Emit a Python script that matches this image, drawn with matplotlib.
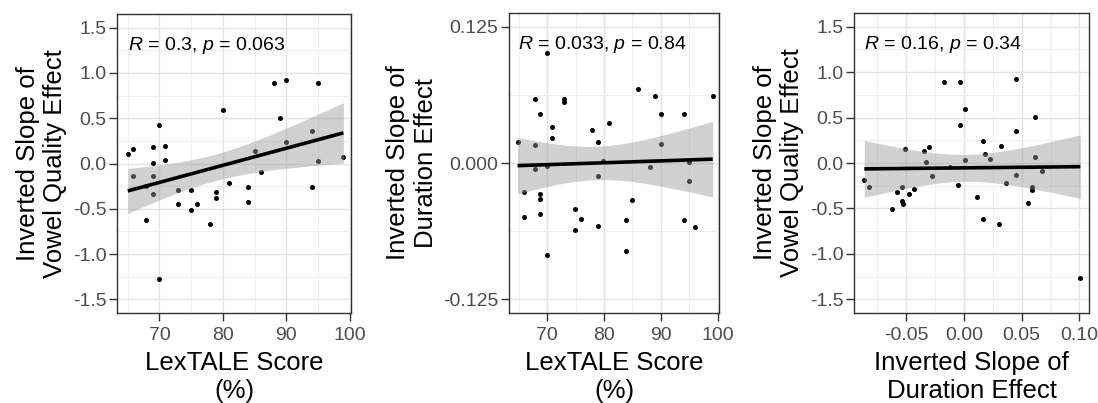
import numpy as np
from matplotlib import pyplot as plt
from matplotlib import ticker
from matplotlib import transforms as mtransforms

plt.rcParams['font.family'] = ['Liberation Sans', 'DejaVu Sans']
plt.rcParams['mathtext.fontset'] = 'custom'
plt.rcParams['mathtext.rm'] = 'Liberation Sans'
plt.rcParams['mathtext.it'] = 'Liberation Sans:italic'
plt.rcParams['axes.unicode_minus'] = False

# Panel 1: LexTALE score vs inverted slope of vowel quality effect
lex_a = [65.0, 65.9, 65.9, 67.9, 67.9, 68.9, 68.9, 68.9, 68.9, 70.0, 70.0,
         70.9, 70.9, 72.9, 72.9, 74.9, 74.9, 75.9, 77.9, 78.9, 78.9, 80.0,
         81.0, 84.0, 84.0, 85.0, 86.0, 88.0, 89.0, 90.0, 90.0, 94.0, 94.0,
         95.0, 95.0, 99.0]
vowel_a = [0.10, 0.16, -0.14, -0.25, -0.62, 0.18, 0.01, -0.14, -0.34, 0.42,
           -1.27, 0.19, 0.04, -0.29, -0.45, -0.29, -0.51, -0.45, -0.67, -0.32,
           -0.38, 0.59, -0.22, -0.26, -0.42, 0.14, -0.09, 0.89, 0.50, 0.92,
           0.24, 0.36, -0.26, 0.89, 0.03, 0.07]

# Panel 2: LexTALE score vs inverted slope of duration effect
lex_b = [64.8, 65.9, 65.9, 67.8, 67.8, 67.8, 68.8, 68.8, 68.8, 68.8, 69.9,
         69.9, 69.9, 70.9, 70.9, 72.9, 72.9, 74.9, 74.9, 75.9, 77.9, 78.9,
         78.9, 78.9, 79.9, 80.9, 83.9, 83.9, 84.9, 86.0, 88.0, 89.0, 90.0,
         90.0, 94.0, 94.0, 95.0, 95.0, 96.0, 99.1]
duration_b = [0.0191, -0.0267, -0.0498, 0.0589, 0.0167, -0.0052, 0.0452,
              -0.0288, -0.0328, -0.0470, 0.1007, -0.0024, -0.0843, 0.0328,
              0.0231, 0.0583, 0.0555, -0.0419, -0.0610, -0.0516, 0.0303,
              0.0197, -0.0115, -0.0573, 0.0015, 0.0364, -0.0522, -0.0810,
              -0.0340, 0.0677, -0.0036, 0.0616, 0.0452, 0.0176, 0.0452,
              -0.0522, 0.0009, -0.0167, -0.0586, 0.0610]

# Panel 3: duration effect slope vs vowel quality effect slope
duration_c = [-0.0861, -0.0821, -0.0625, -0.0582, -0.0533, -0.0533, -0.0524,
              -0.0507, -0.0478, -0.0429, -0.0348, -0.0331, -0.0300, -0.0276,
              -0.0170, -0.0118, -0.0052, -0.0037, -0.0029, 0.0006, 0.0009,
              0.0112, 0.0164, 0.0170, 0.0184, 0.0225, 0.0302, 0.0323, 0.0363,
              0.0449, 0.0449, 0.0455, 0.0559, 0.0588, 0.0588, 0.0613, 0.0619,
              0.0677, 0.1008]
vowel_c = [-0.187, -0.264, -0.505, -0.322, -0.260, -0.414, -0.450, 0.157,
           -0.340, -0.286, 0.136, 0.011, 0.179, -0.139, 0.894, -0.040, -0.238,
           0.894, 0.421, 0.593, 0.037, -0.377, -0.619, 0.238, 0.103, 0.040,
           -0.670, 0.190, -0.220, 0.923, 0.355, -0.136, -0.443, -0.260,
           -0.293, 0.066, 0.502, -0.092, -1.267]

stat_labels = [r'$\mathit{R}$ = 0.3, $\mathit{p}$ = 0.063',
               r'$\mathit{R}$ = 0.033, $\mathit{p}$ = 0.84',
               r'$\mathit{R}$ = 0.16, $\mathit{p}$ = 0.34']

x_titles = ['LexTALE Score\n(%)', 'LexTALE Score\n(%)',
            'Inverted Slope of\nDuration Effect']
y_titles = ['Inverted Slope of\nVowel Quality Effect',
            'Inverted Slope of\nDuration Effect',
            'Inverted Slope of\nVowel Quality Effect']

lex_ticks = [70, 80, 90, 100]
lex_minor = [65, 75, 85, 95]
vowel_ticks = [-1.5, -1.0, -0.5, 0.0, 0.5, 1.0, 1.5]
vowel_minor = [-1.25, -0.75, -0.25, 0.25, 0.75, 1.25]
duration_ticks = [-0.125, 0.0, 0.125]
duration_minor = [-0.0625, 0.0625]
duration_x_ticks = [-0.05, 0.0, 0.05, 0.10]
duration_x_minor = [-0.075, -0.025, 0.025, 0.075]

T_CRIT = 2.03
W, H = 1098, 403

style_grid_major = {'color': '#E4E4E4', 'linewidth': 1.0}
style_grid_minor = {'color': '#ECECEC', 'linewidth': 0.6}
style_points = {'s': 13, 'color': 'black', 'linewidths': 0, 'zorder': 2}
style_band = {'color': '#999999', 'alpha': 0.45, 'linewidth': 0, 'zorder': 3}
style_line = {'color': 'black', 'linewidth': 2.6, 'zorder': 4,
              'solid_capstyle': 'butt'}
style_title = {'fontsize': 18.5, 'linespacing': 1.2}


def px_axes(fig, left, right, top, bottom):
    return fig.add_axes([left / W, 1 - bottom / H,
                         (right - left) / W, (bottom - top) / H])


def setup_panel(ax, xlim, ylim, xticks, xminor, yticks, yminor,
                xfmt, yfmt, xlabel, ylabel):
    ax.set_xlim(*xlim)
    ax.set_ylim(*ylim)
    ax.set_xticks(xticks)
    ax.set_xticks(xminor, minor=True)
    ax.set_yticks(yticks)
    ax.set_yticks(yminor, minor=True)
    ax.xaxis.set_major_formatter(ticker.FormatStrFormatter(xfmt))
    ax.yaxis.set_major_formatter(ticker.FormatStrFormatter(yfmt))
    ax.grid(which='major', **style_grid_major)
    ax.grid(which='minor', **style_grid_minor)
    ax.set_axisbelow(True)
    for sp in ax.spines.values():
        sp.set_color('#333333')
        sp.set_linewidth(1.0)
    ax.tick_params(which='major', direction='out', length=5.5, width=1.0,
                   color='#333333', labelcolor='#4D4D4D', labelsize=14)
    ax.tick_params(axis='y', which='major', pad=2.0)
    ax.tick_params(axis='x', which='major', pad=4.5)
    ax.tick_params(which='minor', length=0)
    ax.set_xlabel(xlabel, labelpad=5, **style_title)
    ax.set_ylabel(ylabel, labelpad=4, **style_title)


def plot_smooth(ax, x, y):
    x = np.asarray(x)
    y = np.asarray(y)
    b, a = np.polyfit(x, y, 1)
    xs = np.linspace(x.min(), x.max(), 80)
    fit = a + b * xs
    n = len(x)
    s = np.sqrt(np.sum((y - (a + b * x)) ** 2) / (n - 2))
    se = s * np.sqrt(1.0 / n + (xs - x.mean()) ** 2 / np.sum((x - x.mean()) ** 2))
    ax.fill_between(xs, fit - T_CRIT * se, fit + T_CRIT * se, **style_band)
    ax.plot(xs, fit, **style_line)


def plot_panel(ax, x, y, label):
    ax.scatter(x, y, **style_points)
    plot_smooth(ax, x, y)
    trans = mtransforms.blended_transform_factory(ax.transData, ax.transAxes)
    ax.text(min(x), 0.88, label, transform=trans, fontsize=14,
            ha='left', va='baseline', color='black', zorder=5)


fig = plt.figure(figsize=(W / 100, H / 100), dpi=100)

ax1 = px_axes(fig, 117, 351, 14, 313)
setup_panel(ax1, (63.3, 100.2), (-1.65, 1.65), lex_ticks, lex_minor,
            vowel_ticks, vowel_minor, '%d', '%.1f', x_titles[0], y_titles[0])
plot_panel(ax1, lex_a, vowel_a, stat_labels[0])

ax2 = px_axes(fig, 509, 719, 13, 313)
setup_panel(ax2, (63.3, 100.2), (-0.1375, 0.1375), lex_ticks, lex_minor,
            duration_ticks, duration_minor, '%d', '%.3f',
            x_titles[1], y_titles[1])
plot_panel(ax2, lex_b, duration_b, stat_labels[1])

ax3 = px_axes(fig, 854, 1089, 13, 313)
setup_panel(ax3, (-0.095, 0.1083), (-1.65, 1.65), duration_x_ticks,
            duration_x_minor, vowel_ticks, vowel_minor, '%.2f', '%.1f',
            x_titles[2], y_titles[2])
plot_panel(ax3, duration_c, vowel_c, stat_labels[2])

fig.savefig('out.png', dpi=100)
